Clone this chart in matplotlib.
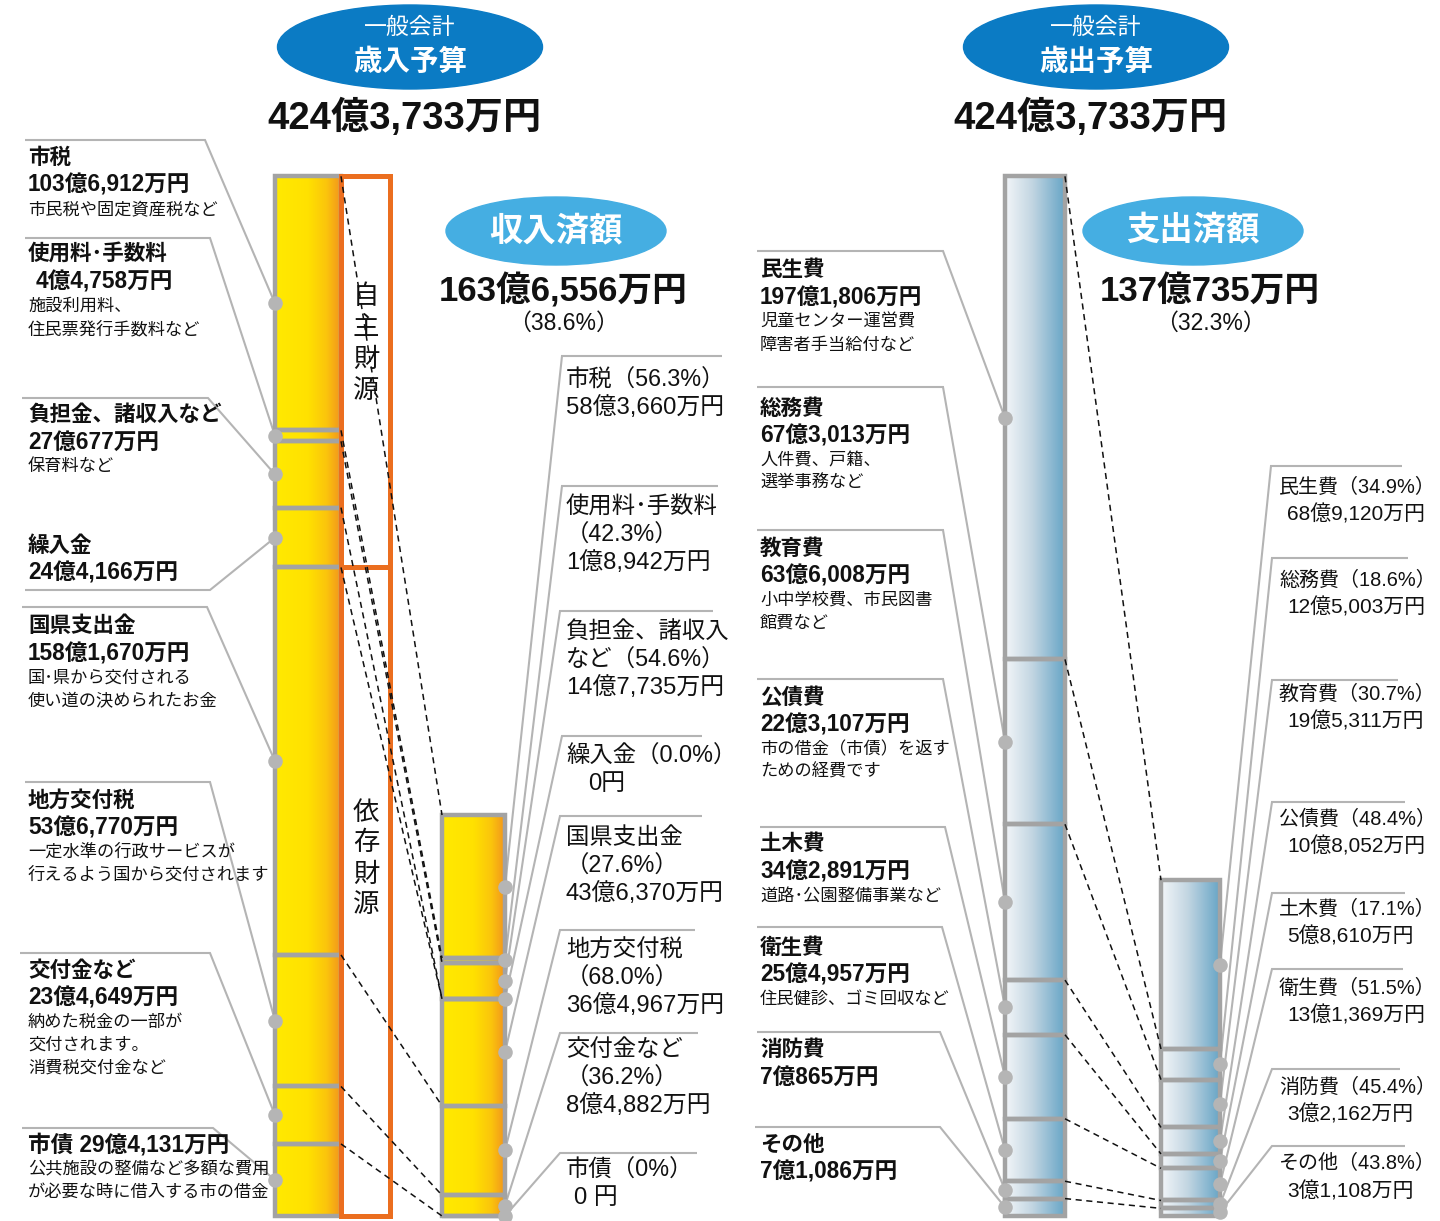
import matplotlib
matplotlib.use('Agg')
import numpy as np
import matplotlib.pyplot as plt
from matplotlib.patches import Ellipse, Rectangle
from matplotlib.colors import LinearSegmentedColormap

CJK = 'Noto Sans CJK JP'
plt.rcParams['font.family'] = [CJK, 'DejaVu Sans']
NUMF = ['Liberation Sans', CJK]

# ---------------- data (units: 億円) ----------------
rev_names = ['市税', '使用料･手数料', '負担金、諸収入など', '繰入金',
             '国県支出金', '地方交付税', '交付金など', '市債']
rev_budget = [103.6912, 4.4758, 27.0677, 24.4166, 158.1670, 53.6770, 23.4649, 29.4131]
rev_actual = [58.3660, 1.8942, 14.7735, 0.0, 43.6370, 36.4967, 8.4882, 0.0]
rev_pct = ['56.3%', '42.3%', '54.6%', '0.0%', '27.6%', '68.0%', '36.2%', '0%']
rev_desc = ['市民税や固定資産税など',
            '施設利用料、\n住民票発行手数料など',
            '保育料など',
            '',
            '国･県から交付される\n使い道の決められたお金',
            '一定水準の行政サービスが\n行えるよう国から交付されます',
            '納めた税金の一部が\n交付されます。\n消費税交付金など',
            '公共施設の整備など多額な費用\nが必要な時に借入する市の借金']
rev_mid_head = ['市税（{}）', '使用料･手数料\n（{}）', '負担金、諸収入\nなど（{}）', '繰入金（{}）',
                '国県支出金\n（{}）', '地方交付税\n（{}）', '交付金など\n（{}）', '市債（{}）']
jishu_count = 4  # 自主財源 = first four revenue items

exp_names = ['民生費', '総務費', '教育費', '公債費', '土木費', '衛生費', '消防費', 'その他']
exp_budget = [197.1806, 67.3013, 63.6008, 22.3107, 34.2891, 25.4957, 7.0865, 7.1086]
exp_actual = [68.9120, 12.5003, 19.5311, 10.8052, 5.8610, 13.1369, 3.2162, 3.1108]
exp_pct = ['34.9%', '18.6%', '30.7%', '48.4%', '17.1%', '51.5%', '45.4%', '43.8%']
exp_desc = ['児童センター運営費\n障害者手当給付など',
            '人件費、戸籍、\n選挙事務など',
            '小中学校費、市民図書\n館費など',
            '市の借金（市債）を返す\nための経費です',
            '道路･公園整備事業など',
            '住民健診、ゴミ回収など',
            '', '']

rev_pct_total = '38.6%'
exp_pct_total = '32.3%'


def oku(v, space=False):
    man = int(round(v * 10000))
    o, m = divmod(man, 10000)
    if o and m:
        return f"{o}億{m:,}万円"
    if o:
        return f"{o}億円"
    if m:
        return f"{m:,}万円"
    return "0 円" if space else "0円"


# ---------------- layout ----------------
W, H = 1440, 1221
PX_PER_OKU = 2.45
BASE = 1216

GRAY = '#a3a3a3'
LINE = '#b4b4b4'
DOT = '#b5b5b5'
ORANGE = '#eb6e1f'
DARKBLUE = '#0b7bc4'
LIGHTBLUE = '#45aee2'

fig = plt.figure(figsize=(W / 100, H / 100), dpi=100)
ax = fig.add_axes([0, 0, 1, 1])
ax.set_xlim(0, W)
ax.set_ylim(H, 0)
ax.axis('off')

bx = fig.add_axes([0, 0, 1, 1])
bx.axis('off')

yellow = LinearSegmentedColormap.from_list('y', [(0, '#ffea00'), (0.5, '#ffe100'), (0.78, '#fbc50c'), (1, '#f2951d')])
blue = LinearSegmentedColormap.from_list('b', [(0, '#f3f6f9'), (0.45, '#c3d6e2'), (1, '#67a5c6')])


def stacked(values, xc, width, cmap, dot_side):
    vals = np.array(values, dtype=float)
    total = vals.sum()
    tops = total - np.concatenate([[0], np.cumsum(vals)[:-1]])
    bottoms = tops - vals
    x0, x1 = xc - width / 2, xc + width / 2
    grad = np.linspace(0, 1, 256).reshape(1, -1)
    bx.imshow(grad, cmap=cmap, extent=(x0, x1, 0, total), aspect='auto',
              zorder=1, interpolation='bilinear')
    bx.bar(xc, vals, width=width, bottom=bottoms, facecolor='none',
           edgecolor=GRAY, linewidth=3.2, zorder=2)
    mids = bottoms + vals / 2
    xd = x0 if dot_side == 'left' else x1
    return dict(tops=tops, mids=mids, x0=x0, x1=x1, xd=xd, total=total)


Lb = stacked(rev_budget, 308, 66, yellow, 'left')
La = stacked(rev_actual, 473.5, 63, yellow, 'right')
Eb = stacked(exp_budget, 1035, 60, blue, 'left')
Ea = stacked(exp_actual, 1190.5, 59, blue, 'right')

bx.set_xlim(0, W)
bx.set_ylim(-(H - BASE) / PX_PER_OKU, BASE / PX_PER_OKU)

# 自主財源 / 依存財源 boxes
jishu = sum(rev_budget[:jishu_count])
tot = Lb['total']
bx.add_patch(Rectangle((Lb['x1'], tot - jishu), 49, jishu, fill=False,
                       edgecolor=ORANGE, linewidth=3.6, zorder=3))
bx.add_patch(Rectangle((Lb['x1'], 0), 49, tot - jishu, fill=False,
                       edgecolor=ORANGE, linewidth=3.6, zorder=3))

# dashed connectors between budget and actual bars
for A, B in ((Lb, La), (Eb, Ea)):
    for i in range(len(A['tops'])):
        bx.plot([A['x1'], B['x0']], [A['tops'][i], B['tops'][i]], color='#111111',
                lw=1.1, ls=(0, (4, 3)), zorder=4)

# dots
for B in (Lb, La, Eb, Ea):
    bx.scatter(np.full(len(B['mids']), B['xd']), B['mids'], s=110, color=DOT,
               zorder=6, clip_on=False, linewidths=0)


def px(xd, yd):
    return ax.transData.inverted().transform(bx.transData.transform((xd, yd)))


def leader(h, B, i, attach):
    x0, x1, y = h
    dx, dy = px(B['xd'], B['mids'][i])
    if attach == 'right':
        xs = [x0, x1, dx]
    else:
        xs = [x1, x0, dx]
    ax.plot(xs, [y, y, dy], color=LINE, lw=1.5, zorder=1,
            solid_joinstyle='miter', solid_capstyle='butt')


def txt(x, y, s, size, bold=False, color='#111111', family=None, ha='left'):
    ax.text(x, y, s, fontsize=size, fontweight='bold' if bold else 'normal',
            color=color, ha=ha, va='center', family=family if family else [CJK, 'DejaVu Sans'])


TS, VS, DS = 15.5, 16.3, 12.4

# ---------------- left labels (歳入予算) ----------------
left_hline = [(25, 205, 140), (25, 210, 238), (22, 208, 398), (25, 210, 590),
              (22, 207, 607), (25, 210, 782), (20, 210, 953), (22, 213, 1128)]
left_title_y = [157, 254, 414, 545, 626, 800, 970, 1145]
left_val_dx = [0, 8, 0, 0, 0, 0, 0, 0]

for i in range(len(rev_names)):
    leader(left_hline[i], Lb, i, 'right')
    ty = left_title_y[i]
    if i == len(rev_names) - 1:
        txt(28, ty, f"{rev_names[i]} {oku(rev_budget[i])}", VS, True, family=NUMF)
        dy0 = ty + 24
    else:
        txt(28, ty, rev_names[i], TS, True)
        txt(28 + left_val_dx[i], ty + 28, oku(rev_budget[i]), VS, True, family=NUMF)
        dy0 = ty + 52
    if rev_desc[i]:
        for k, line in enumerate(rev_desc[i].split('\n')):
            txt(28, dy0 + 23 * k, line, DS)

# ---------------- middle labels (収入済額) ----------------
mid_hline = [(562, 722, 356), (562, 718, 486), (560, 713, 611), (562, 702, 736),
             (560, 702, 816), (560, 695, 930), (560, 698, 1033), (560, 697, 1153)]
mid_text_y = [380, 507, 632, 756, 838, 950, 1050, 1170]
mid_val_dx = [0, 0, 0, 22, 0, 0, 0, 8]

for i in range(len(rev_names)):
    leader(mid_hline[i], La, i, 'left')
    lines = rev_mid_head[i].format(rev_pct[i]).split('\n')
    for k, line in enumerate(lines):
        txt(566, mid_text_y[i] + 28 * k, line, 16.8, family=NUMF)
    txt(566 + mid_val_dx[i], mid_text_y[i] + 28 * len(lines),
        oku(rev_actual[i], space=(i == 7)), 17.2, family=NUMF)

# ---------------- right-left labels (歳出予算) ----------------
exp_hline = [(757, 943, 251), (757, 943, 387), (757, 943, 530), (757, 943, 679),
             (760, 945, 827), (757, 942, 927), (757, 940, 1032), (755, 940, 1127)]
exp_title_y = [270, 408, 548, 697, 844, 947, 1049, 1144]

for i in range(len(exp_names)):
    leader(exp_hline[i], Eb, i, 'right')
    ty = exp_title_y[i]
    txt(760, ty, exp_names[i], TS, True)
    txt(760, ty + 28, oku(exp_budget[i]), VS, True, family=NUMF)
    if exp_desc[i]:
        for k, line in enumerate(exp_desc[i].split('\n')):
            txt(760, ty + 52 + 23 * k, line, DS)

# ---------------- far-right labels (支出済額) ----------------
fr_hline = [(1271, 1402, 466), (1272, 1408, 558), (1272, 1398, 680), (1272, 1405, 802),
            (1272, 1405, 893), (1272, 1403, 969), (1272, 1400, 1069), (1272, 1405, 1146)]
fr_text_y = [487, 580, 694, 819, 909, 988, 1087, 1164]

for i in range(len(exp_names)):
    leader(fr_hline[i], Ea, i, 'left')
    txt(1279, fr_text_y[i], f"{exp_names[i]}（{exp_pct[i]}）", 14.4, family=NUMF)
    txt(1287, fr_text_y[i] + 27, oku(exp_actual[i]), 15.0, family=NUMF)

# ---------------- vertical box labels ----------------
for k, ch in enumerate('自主財源'):
    txt(366, 297 + 31 * k, ch, 19, ha='center')
for k, ch in enumerate('依存財源'):
    txt(366, 812 + 31 * k, ch, 19, ha='center')

# ---------------- headers ----------------
for cx, sub in ((410, '歳入予算'), (1096, '歳出予算')):
    ax.add_patch(Ellipse((cx, 47), 265, 84, color=DARKBLUE, zorder=2))
    txt(cx, 27, '一般会計', 16.5, color='white', ha='center')
    txt(cx, 62, sub, 20.5, True, color='white', ha='center')

txt(405, 118, oku(sum(rev_budget)), 27.5, True, family=NUMF, ha='center')
txt(1090, 118, oku(sum(exp_budget)), 27.5, True, family=NUMF, ha='center')

for cx, label in ((556, '収入済額'), (1193, '支出済額')):
    ax.add_patch(Ellipse((cx, 231), 220, 68, color=LIGHTBLUE, zorder=2))
    txt(cx, 231, label, 24, True, color='white', ha='center')

txt(563, 291, oku(sum(rev_actual)), 25, True, family=NUMF, ha='center')
txt(563, 323, f"（{rev_pct_total}）", 16.5, family=NUMF, ha='center')
txt(1210, 291, oku(sum(exp_actual)), 25, True, family=NUMF, ha='center')
txt(1210, 323, f"（{exp_pct_total}）", 16.5, family=NUMF, ha='center')

fig.savefig('out.png', dpi=100)
